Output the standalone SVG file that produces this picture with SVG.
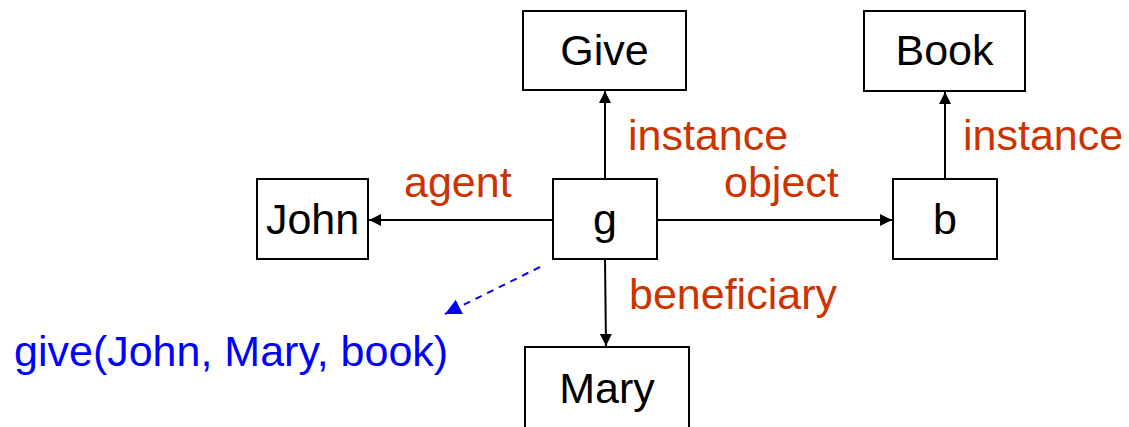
<svg xmlns="http://www.w3.org/2000/svg" width="1129" height="427" viewBox="0 0 1129 427">
  <style>
    .box { fill: #ffffff; stroke: #000000; stroke-width: 2; }
    .name { font-family: "Liberation Sans", Arial, sans-serif; font-size: 43px; fill: #000000; text-anchor: middle; }
    .rel { font-family: "Liberation Sans", Arial, sans-serif; font-size: 43px; fill: #CC3300; }
    .edge { stroke: #000000; stroke-width: 2; fill: none; marker-end: url(#arrow); }
    .pred { font-family: "Liberation Sans", Arial, sans-serif; font-size: 43px; fill: #0000FF; }
  </style>
  <defs>
    <marker id="arrow" viewBox="0 0 12 12" refX="12" refY="6" markerWidth="12" markerHeight="12" markerUnits="userSpaceOnUse" orient="auto">
      <path d="M0,0 L12,6 L0,12 Z" fill="#000000"/>
    </marker>
    <marker id="arrowBlue" viewBox="0 0 16 16" refX="16" refY="8" markerWidth="16" markerHeight="16" markerUnits="userSpaceOnUse" orient="auto">
      <path d="M0,0 L16,8 L0,16 Z" fill="#0000FF"/>
    </marker>
  </defs>

  <!-- relations between the nodes -->
  <g id="connectors">
    <line class="edge" x1="605" y1="179" x2="605" y2="91"/>
    <line class="edge" x1="553" y1="220" x2="369" y2="220"/>
    <line class="edge" x1="657" y1="220" x2="892" y2="220"/>
    <line class="edge" x1="605" y1="259" x2="606" y2="346"/>
    <line class="edge" x1="945" y1="179" x2="945" y2="92"/>
    <line x1="540" y1="267" x2="445" y2="314" stroke="#0000FF" stroke-width="2" stroke-dasharray="7,6" marker-end="url(#arrowBlue)"/>
  </g>

  <g id="node-give">
    <rect class="box" x="523" y="11" width="163" height="79"/>
    <text class="name" x="604.5" y="65">Give</text>
  </g>
  <g id="node-book">
    <rect class="box" x="864" y="11" width="161" height="80"/>
    <text class="name" x="944.5" y="65">Book</text>
  </g>
  <g id="node-g">
    <rect class="box" x="553" y="179" width="104" height="80"/>
    <text class="name" x="605" y="234">g</text>
  </g>
  <g id="node-john">
    <rect class="box" x="257" y="179" width="111" height="80"/>
    <text class="name" x="312.5" y="234">John</text>
  </g>
  <g id="node-b">
    <rect class="box" x="893" y="179" width="104" height="80"/>
    <text class="name" x="945" y="234">b</text>
  </g>
  <g id="node-mary">
    <rect class="box" x="525" y="347" width="164" height="84"/>
    <text class="name" x="607" y="403">Mary</text>
  </g>

  <!-- edge labels -->
  <g id="labels">
    <text class="rel" x="628" y="150">instance</text>
    <text class="rel" x="963" y="150">instance</text>
    <text class="rel" x="404" y="197">agent</text>
    <text class="rel" x="724" y="197">object</text>
    <text class="rel" x="629" y="309">beneficiary</text>
  </g>

  <text class="pred" x="14" y="366">give(John, Mary, book)</text>
</svg>
